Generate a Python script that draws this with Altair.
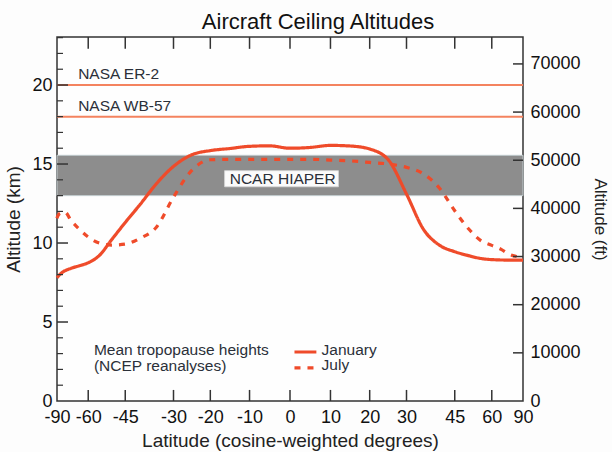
import altair as alt
import numpy as np
import pandas as pd

# ---------------- data ----------------
jan_lat = [-90, -80, -70, -65, -60, -55, -50, -45, -40, -35, -30, -25, -20, -15, -10, -5,
           0, 5, 10, 15, 20, 25, 30, 35, 40, 45, 50, 55, 60, 70, 80, 90]
jan_km = [7.8, 8.05, 8.4, 8.55, 8.75, 9.2, 10.2, 11.3, 12.45, 13.75, 14.85, 15.58, 15.85, 15.98, 16.12, 16.15,
          16.0, 16.05, 16.18, 16.14, 15.95, 15.25, 13.1, 10.85, 9.85, 9.45, 9.2, 9.02, 8.95, 8.92, 8.92, 8.92]

jul_lat = [-90, -85, -80, -75, -70, -65, -60, -55, -50, -45, -40, -35, -30, -25, -20, -15, -10, -5,
           0, 5, 10, 15, 20, 25, 30, 35, 40, 45, 50, 55, 60, 65, 70, 80, 90]
jul_km = [11.56, 11.73, 11.9, 11.95, 11.43, 10.9, 10.38, 10.0, 9.87, 9.93, 10.3, 11.0, 12.9, 14.58, 15.27, 15.3, 15.3, 15.3,
          15.3, 15.3, 15.25, 15.2, 15.1, 15.0, 14.79, 14.37, 13.45, 12.04, 10.9, 10.15, 9.85, 9.6, 9.3, 9.1, 9.03]

months = ["January", "July"]

aircraft_names = ["NASA ER-2", "NASA WB-57"]
aircraft_km = [20.0, 18.0]
hiaper_name = "NCAR HIAPER"
hiaper_km = [13.0, 15.55]

lat_ticks = [-90, -60, -45, -30, -20, -10, 0, 10, 20, 30, 45, 60, 90]
km_labels = [0, 5, 10, 15, 20]
km_major = [5, 10, 15, 20]
km_minor = [1, 2, 3, 4, 6, 7, 8, 9, 11, 12, 13, 14, 16, 17, 18, 19, 21, 22, 23]
ft_labels = [0, 10000, 20000, 30000, 40000, 50000, 60000, 70000]
ft_ticks = [10000, 20000, 30000, 40000, 50000, 60000, 70000]

legend_lines = ["Mean tropopause heights", "(NCEP reanalyses)"]

# ---------------- layout / style constants ----------------
KM_MAX = 23.04
FT_MAX = KM_MAX * 3280.84
W, H = 466, 364
FONT = "Liberation Sans"
RED = "#ef4b2a"
SALMON = "#f4835f"
INK = "#2b3039"
FRAME = "#333333"
SIN = "sin(datum.lat*PI/180)"

xsc = alt.Scale(domain=[-1, 1], nice=False, zero=False)
ysc = alt.Scale(domain=[0, KM_MAX], nice=False, zero=False)
fsc = alt.Scale(domain=[0, FT_MAX], nice=False, zero=False)

xaxis = alt.Axis(values=[float(v) for v in np.sin(np.radians(lat_ticks))],
                 labelExpr="'' + round(asin(datum.value)*180/PI)",
                 ticks=False, domain=False, grid=False, labelFlush=False, labelOverlap=False,
                 labelPadding=7, labelFontSize=18, title="Latitude (cosine-weighted degrees)",
                 titleFontSize=19, titlePadding=5)
yaxis = alt.Axis(values=km_labels, ticks=False, domain=False, grid=False, labelPadding=5,
                 labelFontSize=18, title="Altitude (km)", titleFontSize=19, titlePadding=8)
faxis = alt.Axis(orient="right", values=ft_labels, format="d", ticks=False, domain=False, grid=False,
                 labelPadding=7, labelFontSize=18, title="Altitude (ft)", titleFontSize=17,
                 titlePadding=10)


def X(field):
    return alt.X(field, type="quantitative", scale=xsc, axis=xaxis)


def XD(v):
    return alt.XDatum(float(v), type="quantitative", scale=xsc, axis=xaxis)


def Y(field):
    return alt.Y(field, type="quantitative", scale=ysc, axis=yaxis)


def YD(v):
    return alt.YDatum(float(v), type="quantitative", scale=ysc, axis=yaxis)


def sinlat(d):
    return float(np.sin(np.radians(d)))


# ---------------- tables ----------------
curves = pd.DataFrame({
    "lat": jan_lat + jul_lat,
    "km": jan_km + jul_km,
    "month": [months[0]] * len(jan_lat) + [months[1]] * len(jul_lat),
})
aircraft = pd.DataFrame({"name": aircraft_names, "km": aircraft_km})
hiaper = pd.DataFrame({"lo": [hiaper_km[0]], "hi": [hiaper_km[1]]})
xt = pd.DataFrame({"lat": lat_ticks[1:-1]})
kmaj = pd.DataFrame({"km": km_major})
kmin = pd.DataFrame({"km": km_minor})
ftt = pd.DataFrame({"ft": ft_ticks})

# ---------------- layers ----------------
band = alt.Chart(hiaper).mark_rect(fill="#8d8d8d", stroke="#bfc9cc", strokeWidth=1).encode(
    x=XD(-1), x2=alt.X2Datum(1.0), y=Y("lo"), y2="hi")

box_lat = [-16.3, 12.0]
box = alt.Chart(hiaper).mark_rect(fill="#fbfbfb", stroke="#d8d8d8", strokeWidth=0.8).encode(
    x=XD(sinlat(box_lat[0])), x2=alt.X2Datum(sinlat(box_lat[1])),
    y=YD(13.56), y2=alt.Y2Datum(14.58))

hiaper_text = alt.Chart(hiaper).mark_text(
    text=hiaper_name, font=FONT, fontSize=15.5, color=INK, align="center", baseline="middle"
).encode(x=XD(sinlat(-1.8)), y=YD(14.07))

nasa_rules = alt.Chart(aircraft).mark_rule(color=SALMON, strokeWidth=2).encode(
    y=Y("km"), x=XD(-1), x2=alt.X2Datum(1.0))

nasa_text = alt.Chart(aircraft).transform_calculate(ty="datum.km + 0.7").mark_text(
    font=FONT, fontSize=15.5, color=INK, align="left", baseline="middle"
).encode(x=XD(sinlat(-65.4)), y=Y("ty"), text="name:N")

lines = alt.Chart(curves).transform_calculate(sx=SIN).mark_line(
    color=RED, strokeWidth=3.2, interpolate="monotone"
).encode(
    x=X("sx"), y=Y("km"), detail="month:N",
    strokeDash=alt.StrokeDash("month:N", scale=alt.Scale(domain=months, range=[[1, 0], [6, 7]]),
                              legend=None),
)

leg = pd.DataFrame({"month": months, "ly": [3.1, 2.1], "ty": [3.22, 2.25]})
leg_lines = alt.Chart(leg).mark_rule(color=RED, strokeWidth=3.2).encode(
    x=XD(sinlat(1.1)), x2=alt.X2Datum(sinlat(6.5)), y=Y("ly"),
    strokeDash=alt.StrokeDash("month:N", scale=alt.Scale(domain=months, range=[[1, 0], [6, 7]]),
                              legend=None),
)
leg_text = alt.Chart(leg).mark_text(font=FONT, fontSize=15.5, color=INK, align="left",
                                    baseline="middle").encode(
    x=XD(sinlat(7.8)), y=Y("ty"), text="month:N")

ltab = pd.DataFrame({"t": legend_lines, "ty": [3.22, 2.2]})
leg_title = alt.Chart(ltab).mark_text(font=FONT, fontSize=15.5, color=INK, align="left",
                                      baseline="middle").encode(
    x=XD(sinlat(-57.3)), y=Y("ty"), text="t:N")

TICK_X = 0.7   # km
bot_ticks = alt.Chart(xt).transform_calculate(sx=SIN).mark_rule(color=FRAME, strokeWidth=1.5).encode(
    x=X("sx"), y=YD(0), y2=alt.Y2Datum(TICK_X))
top_ticks = alt.Chart(xt).transform_calculate(sx=SIN).mark_rule(color=FRAME, strokeWidth=1.5).encode(
    x=X("sx"), y=YD(KM_MAX), y2=alt.Y2Datum(KM_MAX - 0.75))
left_major = alt.Chart(kmaj).mark_rule(color=FRAME, strokeWidth=1.5).encode(
    y=Y("km"), x=XD(-1), x2=alt.X2Datum(-1 + 11 / (W / 2)))
left_minor = alt.Chart(kmin).mark_rule(color=FRAME, strokeWidth=1.2).encode(
    y=Y("km"), x=XD(-1), x2=alt.X2Datum(-1 + 6 / (W / 2)))

km_group = alt.layer(band, box, nasa_rules, lines, hiaper_text, nasa_text,
                     leg_lines, leg_text, leg_title, bot_ticks, top_ticks, left_major, left_minor)

right_ticks = alt.Chart(ftt).mark_rule(color=FRAME, strokeWidth=1.5).encode(
    y=alt.Y("ft:Q", scale=fsc, axis=faxis), x=XD(1 - 10 / (W / 2)), x2=alt.X2Datum(1.0))

chart = alt.layer(km_group, right_ticks).resolve_scale(y="independent").properties(
    width=W, height=H,
    title=alt.TitleParams("Aircraft Ceiling Altitudes", font=FONT, fontSize=22, fontWeight="normal",
                          color="#111111", anchor="middle", dx=28, dy=24, offset=9,
                          baseline="alphabetic"),
    padding={"left": 57, "top": 37, "right": 612 - 57 - W, "bottom": 452 - 37 - H},
    autosize=alt.AutoSizeParams(type="none"),
    background="#fdfdfd",
).configure_view(stroke=FRAME, strokeWidth=1.5, fill="#fefefe").configure_axis(
    labelFont=FONT, titleFont=FONT, labelColor="#111111", titleColor="#222222", titleFontWeight="normal"
)

chart.save("out.html", embed_options={"renderer": "svg", "actions": False})
